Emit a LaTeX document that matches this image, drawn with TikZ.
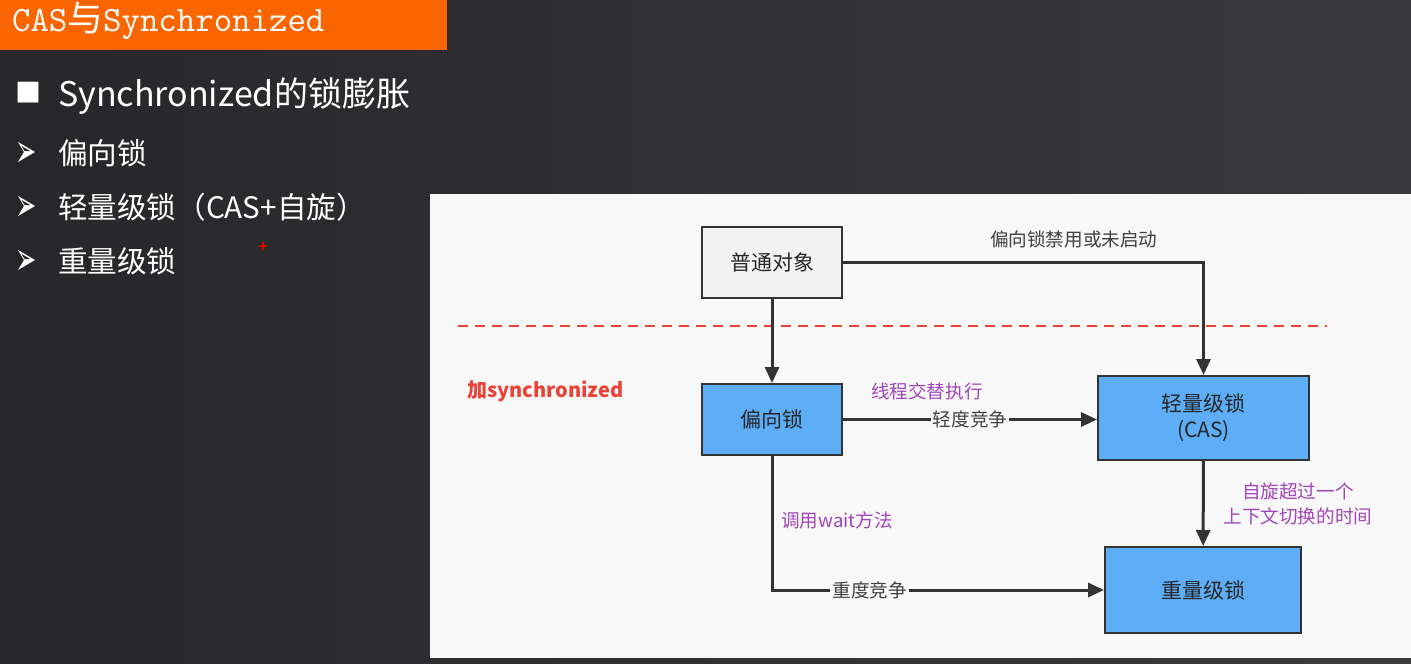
\documentclass[tikz,border=0pt]{standalone}
\usepackage{fontspec}
\setmainfont{Noto Sans CJK SC}
\usetikzlibrary{arrows.meta, positioning}
\usepackage{xcolor}
\definecolor{slidebg}{HTML}{27272A}
\definecolor{slidebgr}{HTML}{3A3A3C}
\definecolor{titleorange}{HTML}{FB6500}
\definecolor{panelgray}{HTML}{F8F8F8}
\definecolor{lockblue}{HTML}{5DAEF6}
\definecolor{objgray}{HTML}{F2F2F2}
\definecolor{edgegray}{HTML}{333333}
\definecolor{markred}{HTML}{EA4236}
\definecolor{notepurple}{HTML}{A146B8}

\begin{document}
\begin{tikzpicture}[
    x=0.5pt, y=-0.5pt,
    lockbox/.style={rectangle, draw=edgegray, fill=lockblue, line width=1pt,
                    minimum width=#1, align=center, font=\fontsize{10.5pt}{13pt}\selectfont,
                    text=black!85},
    objbox/.style={lockbox=70pt, fill=objgray, minimum height=35.5pt},
    arrow/.style={-{Triangle[length=8pt, width=7pt]}, line width=1.5pt, edgegray},
    edgelabel/.style={font=\fontsize{9.3pt}{11pt}\selectfont, text=black!75},
    onlabel/.style={edgelabel, fill=panelgray, inner sep=1pt},
    note/.style={font=\fontsize{9.3pt}{12.5pt}\selectfont, text=notepurple, align=center},
    bulletline/.style={anchor=west, text=white, font=\fontsize{14.8pt}{17pt}\selectfont}
  ]
    \useasboundingbox (0,0) rectangle (1411,663);

    % slide background, title bar and bullets
    \shade[left color=slidebg, right color=slidebgr] (0,0) rectangle (1411,663);
    \fill[titleorange] (0,0) rectangle (447,50);
    \node[anchor=west, text=white, font=\fontsize{17.9pt}{20pt}\ttfamily] (title) at (5,21)
      {CAS{\rmfamily 与}Synchronized};

    \node[text=white, font=\fontsize{13pt}{15pt}\selectfont] (sqbullet) at (28,93) {■};
    \node[bulletline, font=\fontsize{17pt}{20pt}\selectfont] (heading) at (51,96) {Synchronized的锁膨胀};
    \foreach \y/\txt [count=\i] in {153/偏向锁, 207/轻量级锁（CAS+自旋）, 261/重量级锁} {
      % arrowhead bullet
      \fill[white] (18,\y-11) -- (35,\y-1) -- (18,\y+9) -- (24,\y-1) -- cycle;
      \fill[slidebg] (21.5,\y-7) -- (30.5,\y-1.8) -- (24.8,\y-1.8) -- cycle;
      \node[bulletline] (item\i) at (51,\y) {\txt};
    }
    \draw[red!85!black, line width=0.8pt] (259,246) -- (267,246) (263,242) -- (263,250);

    % diagram panel
    \fill[panelgray] (430,194) rectangle (1411,658);
    \draw[markred, line width=1.2pt, dash pattern=on 5pt off 3.5pt] (458,326) -- (1327,326);
    \node[anchor=west, text=markred, font=\fontsize{10pt}{12pt}\bfseries] (addsync) at (460,391) {加synchronized};

    \node[objbox] (plain) at (772,262.5) {普通对象};
    \node[lockbox=70pt, minimum height=35.5pt] (biased) at (772,419.5) {偏向锁};
    \node[lockbox=105.5pt, minimum height=42pt] (light) at (1203.5,418) {轻量级锁\\(CAS)};
    \node[lockbox=98pt, minimum height=43pt] (heavy) at (1203,590) {重量级锁};

    \draw[arrow] (plain) -- (biased);
    \draw[arrow] (plain.east) -| node[edgelabel, pos=0.32, above=3pt] {偏向锁禁用或未启动} (light.north);
    \draw[arrow] (biased.east) -- node[onlabel] {轻度竞争} (light.west |- biased.east);
    \draw[arrow] (light) -- node[note, right=6pt] {自旋超过一个\\上下文切换的时间} (heavy);
    \draw[arrow] (biased.south) |- node[onlabel, pos=0.647] {重度竞争} (heavy.west);

    \node[note, anchor=west] (alternate) at (864,391) {线程交替执行};
    \node[note, anchor=west] (callwait) at (774,520) {调用wait方法};
  \end{tikzpicture}
\end{document}
